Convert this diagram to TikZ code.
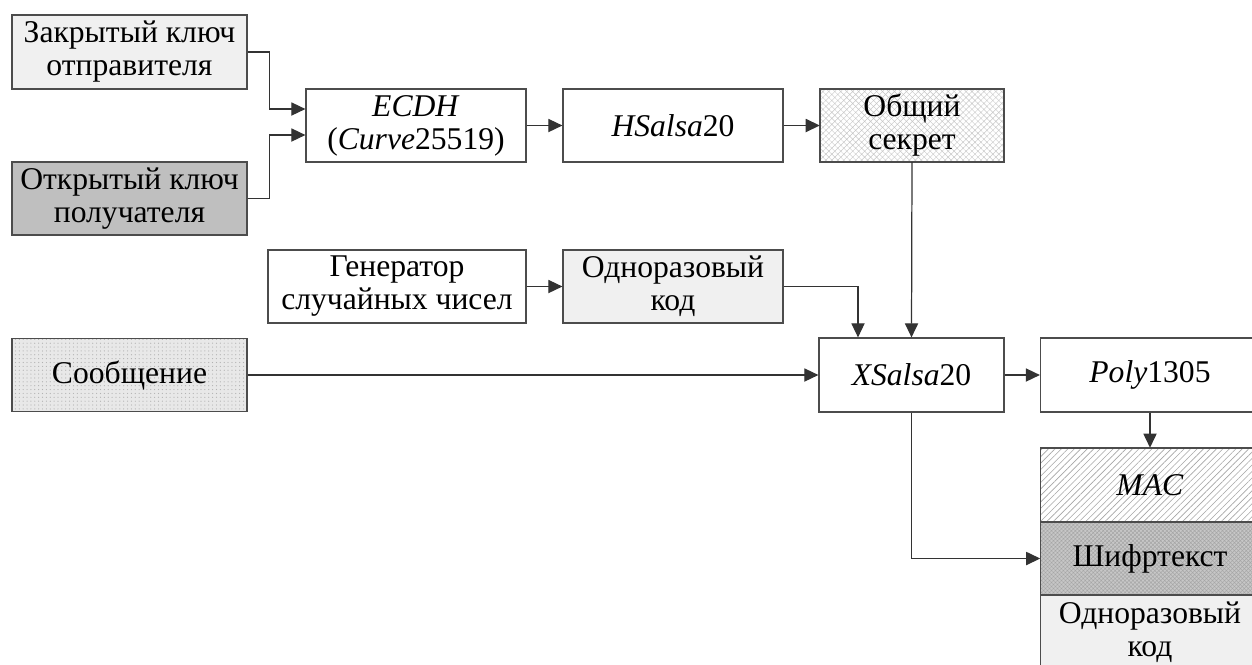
\documentclass[tikz,border=0pt]{standalone}
\usepackage{fontspec}
\setmainfont{Liberation Serif}
\usepackage{tikz}
\usetikzlibrary{arrows.meta, patterns.meta, positioning}

\tikzset{
  box/.style={draw=black!70, line width=0.7pt, align=center, inner sep=0pt,
    font=\fontsize{18}{18.8}\selectfont},
  arr/.style={draw=black!80, line width=0.7pt, -{Triangle[length=8pt,width=7.5pt]}},
  lightfill/.style={fill=black!6},
}

\begin{document}
\begin{tikzpicture}[x=0.02cm, y=-0.02cm]
  \clip (0,0) rectangle (1252,664);

  % left inputs
  \node[box, lightfill, minimum width=4.7cm, minimum height=1.48cm] (privkey) at (129.5,52) {Закрытый ключ\\отправителя};
  \node[box, fill=black!25, minimum width=4.7cm, minimum height=1.46cm] (pubkey) at (129.5,198.5) {Открытый ключ\\получателя};
  \node[box, preaction={fill=black!9}, pattern={Dots[distance=2.2pt,radius=0.35pt]}, pattern color=black!30,
    minimum width=4.7cm, minimum height=1.46cm] (msg) at (129.5,375) {Сообщение};

  % key agreement
  \node[box, minimum width=4.4cm, minimum height=1.46cm] (ecdh) at (416,125.5) {\textit{ECDH}\\(\textit{Curve}25519)};
  \node[box, minimum width=4.4cm, minimum height=1.46cm] (hsalsa) at (673,125.5) {\textit{HSalsa}20};
  \node[box, preaction={fill=white}, pattern={Hatch[angle=45,distance=2.4pt,line width=0.25pt]}, pattern color=black!22,
    minimum width=3.68cm, minimum height=1.46cm] (secret) at (912,125.5) {Общий\\секрет};

  % nonce
  \node[box, minimum width=5.16cm, minimum height=1.46cm] (rng) at (397,286.5) {Генератор\\случайных чисел};
  \node[box, lightfill, minimum width=4.4cm, minimum height=1.46cm] (nonce) at (673,286.5) {Одноразовый\\код};

  % encryption
  \node[box, minimum width=3.7cm, minimum height=1.48cm] (xsalsa) at (911.5,375) {\textit{XSalsa}20};
  \node[box, minimum width=4.38cm, minimum height=1.48cm] (poly) at (1150,375) {\textit{Poly}1305};

  % output
  \node[box, preaction={fill=white}, pattern={Lines[angle=45,distance=2.6pt,line width=0.35pt]}, pattern color=black!35,
    minimum width=4.38cm, minimum height=1.48cm] (mac) at (1150,485) {\textit{MAC}};
  \node[box, preaction={fill=black!22}, pattern={Hatch[angle=45,distance=1.6pt,line width=0.3pt]}, pattern color=black!35,
    minimum width=4.38cm, minimum height=1.46cm] (cipher) at (1150,558.5) {Шифртекст};
  \node[box, lightfill, minimum width=4.38cm, minimum height=1.5cm] (nonceout) at (1150,632.5) {Одноразовый\\код};

  % connectors
  \draw[arr] (privkey.east) -- ++(22,0) |- ([yshift=0.33cm]ecdh.west);
  \draw[arr] (pubkey.east) -- ++(22,0) |- ([yshift=-0.19cm]ecdh.west);
  \draw[arr] (ecdh) -- (hsalsa);
  \draw[arr] (hsalsa) -- (secret);
  \draw[arr] (rng) -- (nonce);
  \draw[arr] (nonce.east) -| ([xshift=-1.07cm]xsalsa.north);
  \draw[arr] (secret.south) -- (xsalsa.north);
  \draw[arr] (msg) -- (xsalsa);
  \draw[arr] (xsalsa) -- (poly);
  \draw[arr] (poly) -- (mac);
  \draw[arr] (xsalsa.south) |- (cipher.west);
\end{tikzpicture}
\end{document}
